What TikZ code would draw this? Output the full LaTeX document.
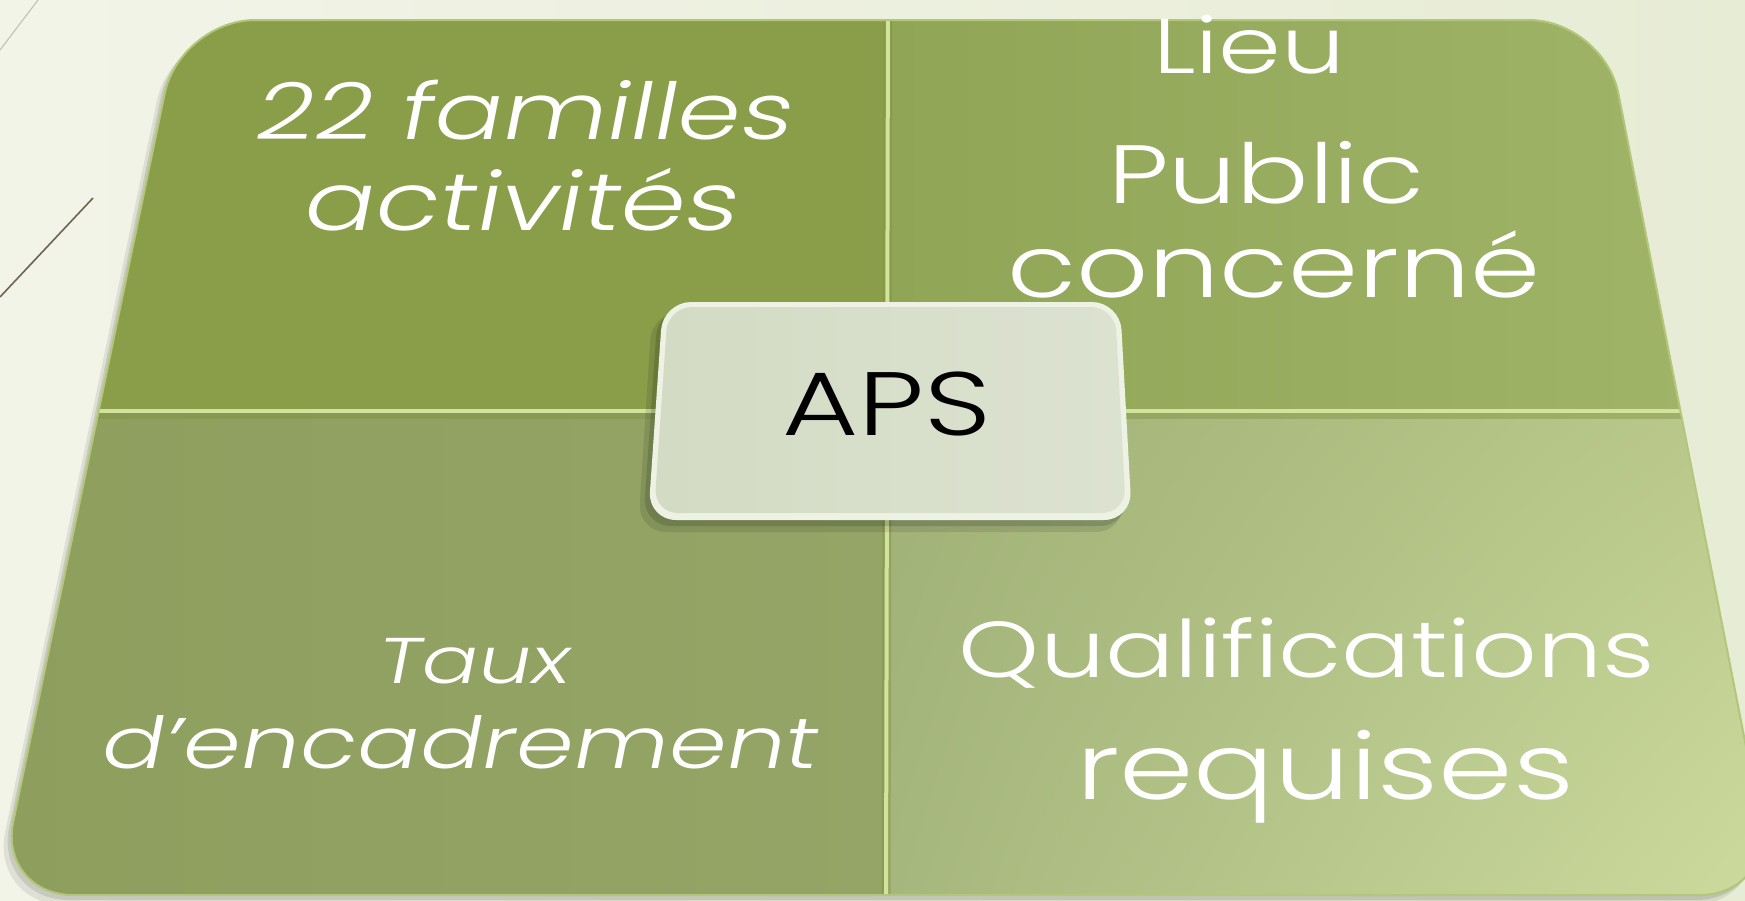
\documentclass[tikz,border=0pt]{standalone}
\usepackage{fontspec}
\IfFontExistsTF{Poppins Light}{%
  \setmainfont{Poppins Light}
  \newfontfamily\obl{Poppins Light}[FakeSlant=0.15]
}{%
  \setmainfont{Poppins}
  \newfontfamily\obl{Poppins}[FakeSlant=0.15]
}
\usepackage{graphicx}
\usetikzlibrary{shadings}
\newcommand\fitw[2]{\resizebox{#1}{!}{\scalebox{1}[0.77]{#2}}}
\definecolor{bgL}{HTML}{F2F4E8}
\definecolor{bgR}{HTML}{E7ECD5}
\definecolor{decoA}{HTML}{C4C6B4}
\definecolor{decoB}{HTML}{6E6450}
\definecolor{qTL}{HTML}{8A9E4A}
\definecolor{qTRa}{HTML}{90A556}
\definecolor{qTRb}{HTML}{A2B66A}
\definecolor{qBLa}{HTML}{8D9E5D}
\definecolor{qBLb}{HTML}{94A567}
\definecolor{qBRa}{HTML}{A0B177}
\definecolor{qBRb}{HTML}{BCCB8C}
\definecolor{qBRc}{HTML}{A6B77D}
\definecolor{qBRd}{HTML}{CFDCA0}
\definecolor{divD}{HTML}{7F9343}
\definecolor{divL}{HTML}{D2E39E}
\definecolor{rim}{HTML}{B3C67A}
\definecolor{apsRim}{HTML}{EEF2E5}
\definecolor{apsA}{HTML}{D3DBC4}
\definecolor{apsB}{HTML}{DCE2D0}
\tikzset{
  lbl/.style={text=white, inner sep=0pt, anchor=base, font=\fontsize{80}{80}\selectfont},
  apslbl/.style={text=black, inner sep=0pt, anchor=base, font=\fontsize{80}{80}\selectfont},
  bigshape/.style={rounded corners=75pt},
  apsshape/.style={rounded corners=28pt},
}
\begin{document}
\begin{tikzpicture}[x=1pt,y=-1pt]
\useasboundingbox (0,0) rectangle (1745,900);
\shade[left color=bgL, right color=bgR] (0,0) rectangle (1745,900);
% decorative lines
\draw[line width=1.2pt, decoA] (0,50) -- (38,0);
\draw[line width=1.6pt, decoB] (0,297) -- (93,198);
% shadow of main plate
\fill[black, opacity=.08, bigshape] (172,28) -- (1596,28) -- (1767,905) -- (-10,905) -- cycle;
\fill[black, opacity=.10, bigshape] (176,24) -- (1600,24) -- (1771,900) -- (-6,900) -- cycle;
\begin{scope}
\clip[bigshape] (180,20) -- (1604,20) -- (1775,895) -- (-2,895) -- cycle;
\fill[qTL] (-10,0) rectangle (888,412);
\shade[left color=qTRa, right color=qTRb] (888,0) rectangle (1800,412);
\shade[left color=qBLa, right color=qBLb] (-10,412) rectangle (888,900);
\shade[upper left=qBRa, upper right=qBRb, lower left=qBRc, lower right=qBRd] (888,412) rectangle (1800,900);
\draw[line width=9pt, divD, opacity=.45] (0,414) -- (1745,414);
\draw[line width=4pt, divL] (0,411) -- (1745,411);
\draw[line width=9pt, divD, opacity=.45] (888,0) -- (886,900);
\draw[line width=4pt, divL] (888,0) -- (886,900);
\end{scope}
\draw[line width=2pt, rim, bigshape] (180,20) -- (1604,20) -- (1775,895) -- (-2,895) -- cycle;
% central APS box
\fill[black, opacity=.10, apsshape] (652,312) -- (1112,312) -- (1124,532) -- (638,532) -- cycle;
\fill[black, opacity=.14, apsshape] (658,308) -- (1116,308) -- (1128,526) -- (643,526) -- cycle;
\fill[apsRim, apsshape] (663,302) -- (1120,302) -- (1132,520) -- (648,520) -- cycle;
\shade[left color=apsA, right color=apsB, rounded corners=24pt] (668,307) -- (1115,307) -- (1126,513) -- (654,513) -- cycle;
% labels
\node[lbl] (fam) at (521,139) {\fitw{536pt}{\obl 22 familles}};
\node[lbl] (act) at (518,230) {\fitw{435pt}{\obl activités}};
\node[lbl] (lieu) at (1249,73) {\fitw{192pt}{Lieu}};
\node[lbl] (pub) at (1266,203) {\fitw{316pt}{Public}};
\node[lbl] (conc) at (1274,297) {\fitw{534pt}{concerné}};
\node[lbl] (taux) at (471,683) {\fitw{192pt}{\obl Taux}};
\node[lbl] (enc) at (457,768) {\fitw{716pt}{\obl d’encadrement}};
\node[lbl] (qual) at (1307,677) {\fitw{696pt}{Qualifications}};
\node[lbl] (req) at (1325,799) {\fitw{498pt}{requises}};
\node[apslbl] (aps) at (887,435) {\fitw{209pt}{APS}};
\end{tikzpicture}
\end{document}
